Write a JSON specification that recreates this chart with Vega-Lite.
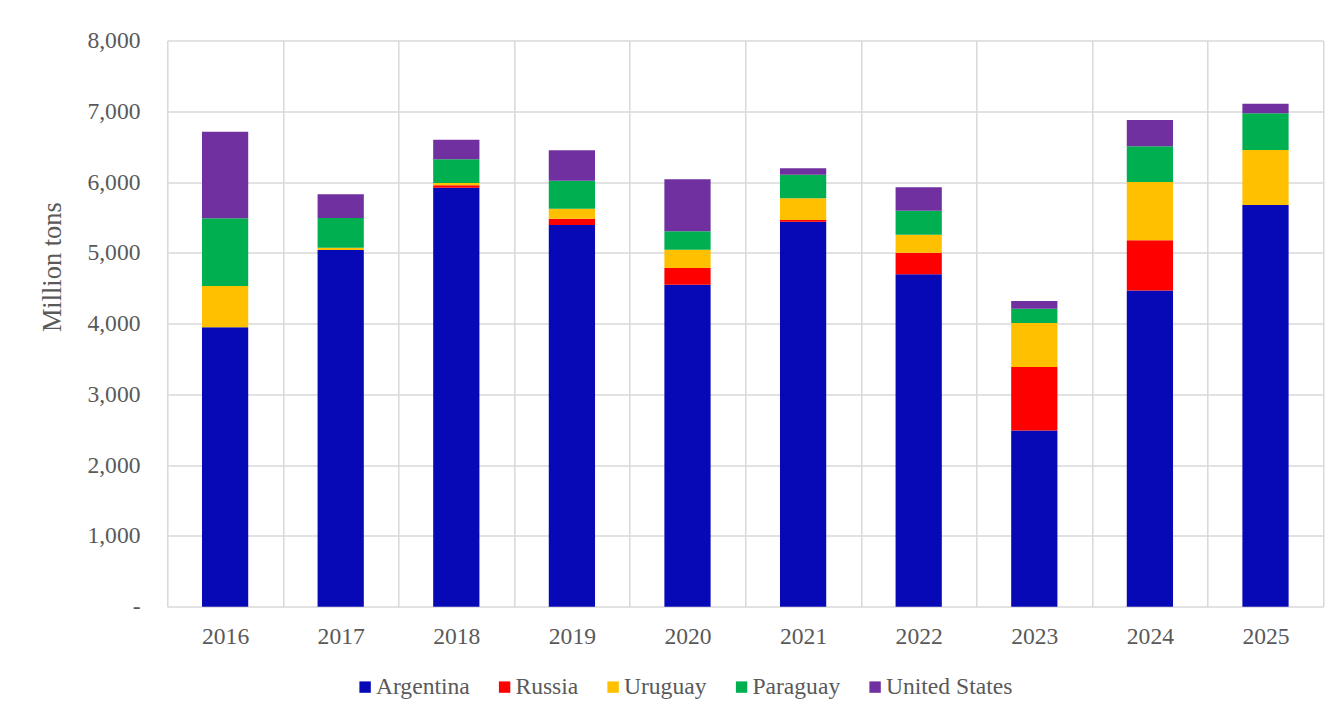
{
  "$schema": "https://vega.github.io/schema/vega-lite/v6.json",
  "autosize": {"type": "none"},
  "width": 1156,
  "height": 566.2,
  "padding": {"left": 167.3, "top": 40.5, "right": 17.7, "bottom": 112.3},
  "background": "white",
  "config": {
    "view": {"stroke": null},
    "font": "Liberation Serif"
  },
  "datasets": {
    "countries": [
      {"country": "Argentina", "rank": 1},
      {"country": "Russia", "rank": 2},
      {"country": "Uruguay", "rank": 3},
      {"country": "Paraguay", "rank": 4},
      {"country": "United States", "rank": 5}
    ]
  },
  "data": {
    "values": [
      {"year": "2016", "country": "Argentina", "value": 3948},
      {"year": "2016", "country": "Uruguay", "value": 584},
      {"year": "2016", "country": "Paraguay", "value": 956},
      {"year": "2016", "country": "United States", "value": 1223},
      {"year": "2017", "country": "Argentina", "value": 5040},
      {"year": "2017", "country": "Uruguay", "value": 33},
      {"year": "2017", "country": "Paraguay", "value": 419},
      {"year": "2017", "country": "United States", "value": 335},
      {"year": "2018", "country": "Argentina", "value": 5921},
      {"year": "2018", "country": "Russia", "value": 33},
      {"year": "2018", "country": "Uruguay", "value": 33},
      {"year": "2018", "country": "Paraguay", "value": 334},
      {"year": "2018", "country": "United States", "value": 278},
      {"year": "2019", "country": "Argentina", "value": 5393},
      {"year": "2019", "country": "Russia", "value": 89},
      {"year": "2019", "country": "Uruguay", "value": 142},
      {"year": "2019", "country": "Paraguay", "value": 396},
      {"year": "2019", "country": "United States", "value": 429},
      {"year": "2020", "country": "Argentina", "value": 4550},
      {"year": "2020", "country": "Russia", "value": 236},
      {"year": "2020", "country": "Uruguay", "value": 259},
      {"year": "2020", "country": "Paraguay", "value": 259},
      {"year": "2020", "country": "United States", "value": 735},
      {"year": "2021", "country": "Argentina", "value": 5440},
      {"year": "2021", "country": "Russia", "value": 24},
      {"year": "2021", "country": "Uruguay", "value": 307},
      {"year": "2021", "country": "Paraguay", "value": 333},
      {"year": "2021", "country": "United States", "value": 90},
      {"year": "2022", "country": "Argentina", "value": 4697},
      {"year": "2022", "country": "Russia", "value": 305},
      {"year": "2022", "country": "Uruguay", "value": 255},
      {"year": "2022", "country": "Paraguay", "value": 339},
      {"year": "2022", "country": "United States", "value": 330},
      {"year": "2023", "country": "Argentina", "value": 2488},
      {"year": "2023", "country": "Russia", "value": 900},
      {"year": "2023", "country": "Uruguay", "value": 621},
      {"year": "2023", "country": "Paraguay", "value": 202},
      {"year": "2023", "country": "United States", "value": 109},
      {"year": "2024", "country": "Argentina", "value": 4466},
      {"year": "2024", "country": "Russia", "value": 711},
      {"year": "2024", "country": "Uruguay", "value": 824},
      {"year": "2024", "country": "Paraguay", "value": 504},
      {"year": "2024", "country": "United States", "value": 372},
      {"year": "2025", "country": "Argentina", "value": 5676},
      {"year": "2025", "country": "Uruguay", "value": 777},
      {"year": "2025", "country": "Paraguay", "value": 518},
      {"year": "2025", "country": "United States", "value": 136}
    ]
  },
  "transform": [
    {"lookup": "country", "from": {"data": {"name": "countries"}, "key": "country", "fields": ["rank"]}}
  ],
  "mark": {"type": "bar", "width": {"band": 0.4}},
  "encoding": {
    "x": {
      "field": "year",
      "type": "nominal",
      "scale": {"paddingInner": 0, "paddingOuter": 0},
      "axis": {
        "title": null,
        "labelAngle": 0,
        "labelFont": "Liberation Serif",
        "labelFontSize": 23.6,
        "labelColor": "#595959",
        "labelPadding": 18,
        "labelBaseline": "top",
        "ticks": false,
        "tickSize": 0,
        "domain": false,
        "grid": true,
        "tickBand": "extent",
        "gridColor": "#d9d9d9",
        "gridWidth": 1.5
      }
    },
    "y": {
      "field": "value",
      "type": "quantitative",
      "stack": "zero",
      "scale": {"domain": [0, 8000], "nice": false},
      "axis": {
        "title": "Million tons",
        "titleFont": "Liberation Serif",
        "titleFontSize": 26.4,
        "titleFontWeight": "normal",
        "titleColor": "#595959",
        "titleAngle": -90,
        "titleAlign": "center",
        "titleBaseline": "alphabetic",
        "titleX": -106.6,
        "titleY": 226.2,
        "values": [0, 1000, 2000, 3000, 4000, 5000, 6000, 7000, 8000],
        "labelExpr": "datum.value == 0 ? '-\u00a0\u00a0' : format(datum.value, ',')",
        "labelFont": "Liberation Serif",
        "labelFontSize": 23.6,
        "labelColor": "#595959",
        "labelPadding": 27.3,
        "ticks": false,
        "tickSize": 0,
        "domain": false,
        "grid": true,
        "gridColor": "#d9d9d9",
        "gridWidth": 1.5
      }
    },
    "color": {
      "field": "country",
      "type": "nominal",
      "sort": ["Argentina", "Russia", "Uruguay", "Paraguay", "United States"],
      "scale": {
        "domain": ["Argentina", "Russia", "Uruguay", "Paraguay", "United States"],
        "range": ["#0709B7", "#FF0000", "#FFC000", "#00B050", "#7030A0"]
      },
      "legend": {
        "title": null,
        "orient": "none",
        "direction": "horizontal",
        "legendX": 186,
        "legendY": 634.5,
        "symbolType": "square",
        "symbolSize": 130,
        "symbolStrokeWidth": 0,
        "symbolOpacity": 1,
        "labelFont": "Liberation Serif",
        "labelFontSize": 23.6,
        "labelColor": "#595959",
        "labelOffset": -1,
        "columnPadding": 22.5,
        "labelLimit": 300
      }
    },
    "order": {"field": "rank", "type": "quantitative", "sort": "ascending"}
  }
}
